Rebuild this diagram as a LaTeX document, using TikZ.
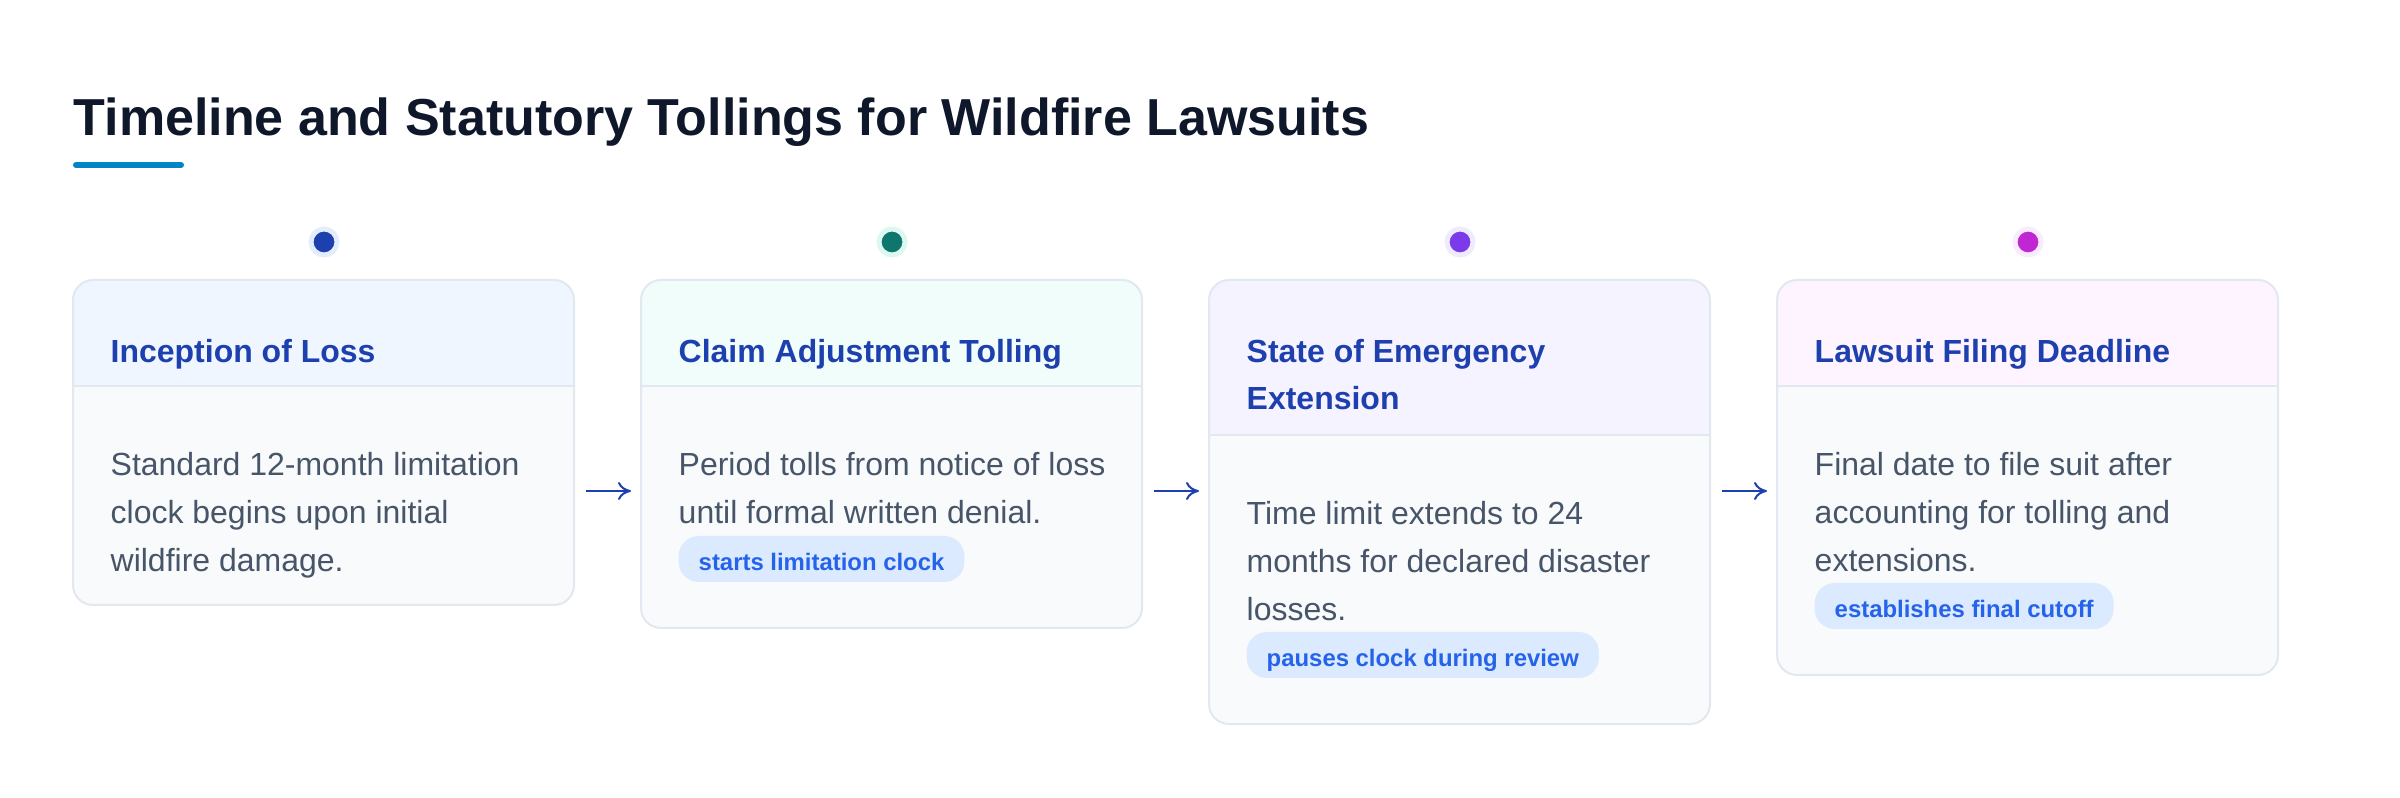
\documentclass[tikz,border=0pt]{standalone}
\usepackage{fontspec}
\setmainfont{Liberation Sans}
\usepackage{tikz}
\usetikzlibrary{arrows.meta}

\definecolor{titleink}{HTML}{0F172A}
\definecolor{barblue}{HTML}{0284C7}
\definecolor{cardedge}{HTML}{E2E8F0}
\definecolor{bodybg}{HTML}{F8FAFC}
\definecolor{hdrblue}{HTML}{EFF6FF}
\definecolor{hdrteal}{HTML}{F0FDFA}
\definecolor{hdrviolet}{HTML}{F5F3FF}
\definecolor{hdrpink}{HTML}{FDF4FF}
\definecolor{dotblue}{HTML}{1E40AF}
\definecolor{dotteal}{HTML}{0F766E}
\definecolor{dotviolet}{HTML}{7C3AED}
\definecolor{dotpink}{HTML}{C026D3}
\definecolor{ringblue}{HTML}{E3EDFE}
\definecolor{ringteal}{HTML}{DDF8F1}
\definecolor{ringviolet}{HTML}{EEEBFE}
\definecolor{ringpink}{HTML}{FBEBFF}
\definecolor{hdrink}{HTML}{1E40AF}
\definecolor{bodyink}{HTML}{475569}
\definecolor{chipbg}{HTML}{DBEAFE}
\definecolor{chipink}{HTML}{2563EB}

\begin{document}
\begin{tikzpicture}[
		cardline/.style={draw=cardedge, line width=0.02cm},
		stepdot/.style={circle, inner sep=0, minimum size=0.26cm, line width=0.05cm},
		hdrtext/.style={anchor=base west, inner sep=0, align=left, text=hdrink, font=\bfseries\fontsize{9.1}{13.4}\selectfont},
		bodytext/.style={anchor=base west, inner sep=0, align=left, text=bodyink, font=\fontsize{9.1}{13.66}\selectfont},
		chip/.style={anchor=west, fill=chipbg, rounded corners=0.2cm, inner xsep=0.2cm, inner ysep=0, minimum height=0.46cm, text height=1.7ex, text depth=0.45ex, text=chipink, font=\bfseries\fontsize{6.8}{8}\selectfont},
		flow/.style={draw=hdrink, line width=0.02cm, -{To[length=1.3mm, width=1.8mm]}}
	]
		\useasboundingbox (0.00,0.00) rectangle (24.00,-7.98);
		\fill[white] (0.00,0.00) rectangle (24.00,-7.98);
		\node[anchor=base west, inner sep=0, text=titleink, font=\bfseries\fontsize{14.8}{17}\selectfont] (title) at (0.73,-1.36) {Timeline and Statutory Tollings for Wildfire Lawsuits};
		\draw[draw=barblue, line width=0.06cm, line cap=round] (0.76,-1.65) -- (1.81,-1.65);

		\begin{scope}
			\clip[rounded corners=0.20cm] (0.73,-2.80) rectangle (5.74,-6.05);
			\fill[bodybg] (0.73,-2.80) rectangle (5.74,-6.05);
			\fill[hdrblue] (0.73,-2.80) rectangle (5.74,-3.86);
		\end{scope}
		\draw[cardline] (0.73,-3.86) -- (5.74,-3.86);
		\draw[cardline, rounded corners=0.20cm] (0.73,-2.80) rectangle (5.74,-6.05);

		\begin{scope}
			\clip[rounded corners=0.20cm] (6.41,-2.80) rectangle (11.42,-6.28);
			\fill[bodybg] (6.41,-2.80) rectangle (11.42,-6.28);
			\fill[hdrteal] (6.41,-2.80) rectangle (11.42,-3.86);
		\end{scope}
		\draw[cardline] (6.41,-3.86) -- (11.42,-3.86);
		\draw[cardline, rounded corners=0.20cm] (6.41,-2.80) rectangle (11.42,-6.28);

		\begin{scope}
			\clip[rounded corners=0.20cm] (12.09,-2.80) rectangle (17.10,-7.24);
			\fill[bodybg] (12.09,-2.80) rectangle (17.10,-7.24);
			\fill[hdrviolet] (12.09,-2.80) rectangle (17.10,-4.35);
		\end{scope}
		\draw[cardline] (12.09,-4.35) -- (17.10,-4.35);
		\draw[cardline, rounded corners=0.20cm] (12.09,-2.80) rectangle (17.10,-7.24);

		\begin{scope}
			\clip[rounded corners=0.20cm] (17.77,-2.80) rectangle (22.78,-6.75);
			\fill[bodybg] (17.77,-2.80) rectangle (22.78,-6.75);
			\fill[hdrpink] (17.77,-2.80) rectangle (22.78,-3.86);
		\end{scope}
		\draw[cardline] (17.77,-3.86) -- (22.78,-3.86);
		\draw[cardline, rounded corners=0.20cm] (17.77,-2.80) rectangle (22.78,-6.75);

		\node[stepdot, fill=dotblue, draw=ringblue] (dot1) at (3.24,-2.42) {};
		\node[stepdot, fill=dotteal, draw=ringteal] (dot2) at (8.92,-2.42) {};
		\node[stepdot, fill=dotviolet, draw=ringviolet] (dot3) at (14.60,-2.42) {};
		\node[stepdot, fill=dotpink, draw=ringpink] (dot4) at (20.28,-2.42) {};

		\node[hdrtext] (head1) at (1.10,-3.63) {Inception of Loss};
		\node[hdrtext] (head2) at (6.78,-3.63) {Claim Adjustment Tolling};
		\node[hdrtext] (head3) at (12.46,-4.10) {State of Emergency\\Extension};
		\node[hdrtext] (head4) at (18.14,-3.63) {Lawsuit Filing Deadline};

		\node[bodytext] (text1) at (1.10,-5.72) {Standard 12-month limitation\\clock begins upon initial\\wildfire damage.};
		\node[bodytext] (text2) at (6.78,-5.24) {Period tolls from notice of loss\\until formal written denial.};
		\node[bodytext] (text3) at (12.46,-6.21) {Time limit extends to 24\\months for declared disaster\\losses.};
		\node[bodytext] (text4) at (18.14,-5.72) {Final date to file suit after\\accounting for tolling and\\extensions.};

		\node[chip] (tag2) at (6.78,-5.59) {starts limitation clock};
		\node[chip] (tag3) at (12.46,-6.55) {pauses clock during review};
		\node[chip] (tag4) at (18.14,-6.06) {establishes final cutoff};

		\coordinate (out1) at (5.86,-4.91);
		\coordinate (in2) at (6.31,-4.91);
		\coordinate (out2) at (11.54,-4.91);
		\coordinate (in3) at (11.99,-4.91);
		\coordinate (out3) at (17.22,-4.91);
		\coordinate (in4) at (17.67,-4.91);
		\draw[flow] (out1) -- (in2);
		\draw[flow] (out2) -- (in3);
		\draw[flow] (out3) -- (in4);
	\end{tikzpicture}
\end{document}
